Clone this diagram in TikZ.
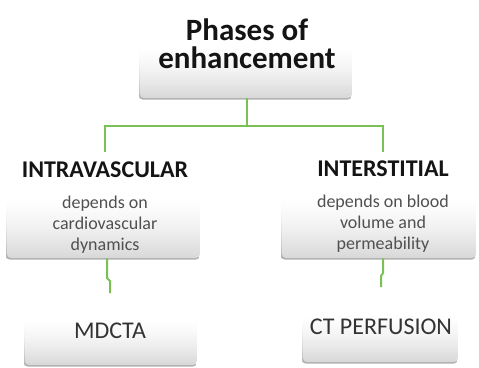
\documentclass[tikz,border=0pt]{standalone}
\usepackage{fontspec}
\setmainfont{Carlito}
\definecolor{lgreen}{RGB}{122,192,84}
\definecolor{subgray}{RGB}{80,80,80}
\definecolor{headblack}{RGB}{20,20,20}
% gradient card area: #1 x-left, #2 y-top (white), #3 x-right, #4 y-bottom (gray)
\newcommand\gbox[4]{%
  \begin{scope}
    \clip[rounded corners=4pt] ({#1-1.5},{#2-10}) rectangle ({#3},{#4+1.5});
    \foreach \i in {0,...,29}{%
      \pgfmathsetmacro\cc{30*(\i/29)^1.6}%
      \fill[black!\cc] ({#1-1.5},{#2+(#4-#2)*\i/30+1.5}) rectangle ({#3-1.5},{#2+(#4-#2)*(\i+1)/30+1.9});
    }
  \end{scope}
  \begin{scope}
    \clip[rounded corners=4pt] (#1,{#2-10}) rectangle (#3,#4);
    \foreach \i in {0,...,29}{%
      \pgfmathsetmacro\cc{15*(\i/29)^1.5}%
      \fill[black!\cc] (#1,{#2+(#4-#2)*\i/30}) rectangle (#3,{#2+(#4-#2)*(\i+1)/30+0.4});
    }
  \end{scope}}
\begin{document}
\begin{tikzpicture}[x=1pt,y=-1pt,
  card/.style={rectangle, inner sep=0pt},
  link/.style={draw=lgreen, line width=2pt},
  head/.style={font=\bfseries\fontsize{24}{26}\selectfont, text=headblack, inner sep=0pt},
  sub/.style={font=\fontsize{18}{21}\selectfont, text=subgray, align=center, inner sep=0pt},
  leaf/.style={font=\fontsize{24}{26}\selectfont, text=black!80, inner sep=0pt}]
\useasboundingbox (0,0) rectangle (479,367);
% box backgrounds (gradient, lower parts)
\gbox{140}{45}{352}{98}
\gbox{7}{195}{200}{258}
\gbox{282}{195}{476}{258}
\gbox{25}{318}{197}{365}
\gbox{303}{313}{458}{362}
% boxes (named areas)
\node[card, minimum width=212pt, minimum height=93pt, anchor=north west] (tbox) at (140,5) {};
\node[card, minimum width=193pt, minimum height=106pt, anchor=north west] (lbox) at (7,152) {};
\node[card, minimum width=194pt, minimum height=106pt, anchor=north west] (rbox) at (282,152) {};
\node[card, minimum width=172pt, minimum height=72pt, anchor=north west] (mbox) at (25,293) {};
\node[card, minimum width=155pt, minimum height=75pt, anchor=north west] (cbox) at (303,287) {};
% texts
\node[font=\bfseries\fontsize{31}{28}\selectfont, text=headblack, align=center, inner sep=0pt] (title) at (247,44) {Phases of\\enhancement};
\node[head] (intra) at (105,170) {INTRAVASCULAR};
\node[sub] (intrasub) at (105,225) {depends on\\cardiovascular\\dynamics};
\node[head] (inter) at (383,169) {INTERSTITIAL};
\node[sub] (intersub) at (383,224) {depends on blood\\volume and\\permeability};
\node[leaf] (mdcta) at (110,331) {MDCTA};
\node[leaf] (ctp) at (381,327) {CT PERFUSION};
% connectors
\coordinate (hub) at (247,125.5);
\draw[link] (tbox.south -| hub) -- (hub);
\draw[link] (105,152) |- (383,125.5) -- (383,152);
\draw[link] (lbox.south -| 107,0) -- (107,278) -- (110,281) -- (mbox.north -| 110,0);
\draw[link] (rbox.south -| 383,0) -- (383,273) -- (381,276) -- (cbox.north -| 381,0);
\end{tikzpicture}
\end{document}
